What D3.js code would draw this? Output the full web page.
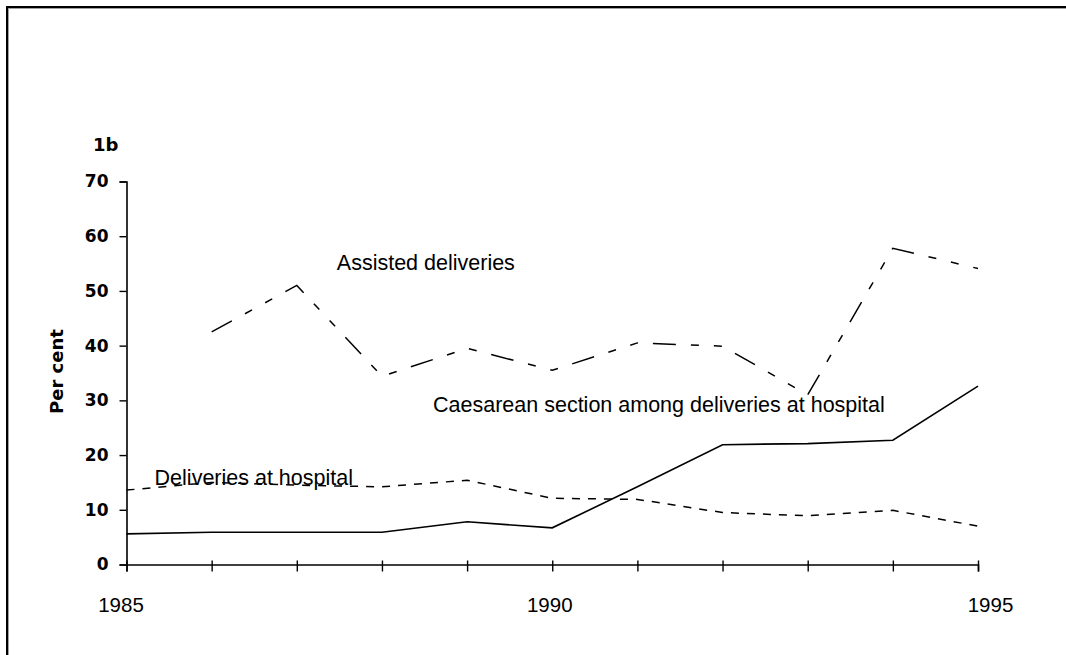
<!DOCTYPE html>
<html>
<head>
<meta charset="utf-8">
<script src="https://cdn.jsdelivr.net/npm/d3@7"></script>
<style>
  html, body { margin: 0; padding: 0; background: #fff; }
  svg { display: block; }
</style>
</head>
<body>
<svg id="chart" width="1066" height="655"></svg>
<script>
// ---- data ----
const years = [1985, 1986, 1987, 1988, 1989, 1990, 1991, 1992, 1993, 1994, 1995];
const assisted = [null, 42.5, 51.0, 34.4, 39.5, 35.5, 40.5, 39.9, 31.0, 57.8, 54.1];
const caesarean = [5.6, 5.9, 5.9, 5.9, 7.8, 6.7, 14.2, 21.9, 22.1, 22.7, 32.6];
const hospital = [13.6, 15.0, 14.5, 14.2, 15.4, 12.1, 11.9, 9.5, 8.9, 9.9, 7.0];
const yTicks = [0, 10, 20, 30, 40, 50, 60, 70];
const xLabelYears = [1985, 1990, 1995];
const seriesNames = ["Assisted deliveries", "Caesarean section among deliveries at hospital", "Deliveries at hospital"];
const panelLabel = "1b";
const yTitle = "Per cent";

// ---- drawing ----
const svg = d3.select("#chart");

// frame (top and left edges)
svg.append("line").attr("x1", 7).attr("x2", 1066).attr("y1", 7).attr("y2", 7)
  .attr("stroke", "#000").attr("stroke-width", 2);
svg.append("line").attr("x1", 7).attr("x2", 7).attr("y1", 6).attr("y2", 655)
  .attr("stroke", "#000").attr("stroke-width", 2);
svg.append("line").attr("x1", 8).attr("x2", 1066).attr("y1", 8.5).attr("y2", 8.5)
  .attr("stroke", "#a0a0a0").attr("stroke-width", 1);
svg.append("line").attr("x1", 8.5).attr("x2", 8.5).attr("y1", 8).attr("y2", 655)
  .attr("stroke", "#a0a0a0").attr("stroke-width", 1);

const x = d3.scaleLinear().domain([1985, 1995]).range([126.5, 978]);
const y = d3.scaleLinear().domain([0, 70]).range([564.5, 181.5]);

// y axis
const yAxis = d3.axisLeft(y).tickValues(yTicks).tickSize(7).tickPadding(11).tickFormat(d3.format("d"));
const gy = svg.append("g").attr("transform", `translate(${x(1985)},0)`).call(yAxis);
gy.select(".domain").attr("stroke", "#000").attr("stroke-width", 1.6);
gy.selectAll(".tick line").attr("stroke", "#000").attr("stroke-width", 1.4);
gy.selectAll(".tick text")
  .attr("font-family", "'DejaVu Sans', Verdana, sans-serif")
  .attr("font-weight", "bold").attr("font-size", 17).attr("fill", "#000");

// x axis
const xLabelShift = {1985: -6, 1990: -3, 1995: 12};
const xAxis = d3.axisBottom(x).tickValues(years).tickSize(7).tickPadding(26)
  .tickFormat(d => xLabelYears.includes(d) ? String(d) : "");
const gx = svg.append("g").attr("transform", `translate(0,${y(0)})`).call(xAxis);
gx.select(".domain").attr("stroke", "#000").attr("stroke-width", 1.6);
gx.selectAll(".tick line").attr("y1", -4).attr("stroke", "#000").attr("stroke-width", 1.4);
gx.selectAll(".tick text")
  .attr("font-family", "'Liberation Sans', Arial, sans-serif")
  .attr("font-size", 20.5).attr("fill", "#000")
  .attr("dx", d => xLabelShift[d] || 0);
gy.raise();

// lines
function series(vals) {
  return years.map((yr, i) => ({year: yr, v: vals[i]})).filter(d => d.v != null);
}
const line = d3.line().x(d => x(d.year)).y(d => y(d.v));

svg.append("path").datum(series(hospital))
  .attr("d", line).attr("fill", "none").attr("stroke", "#000")
  .attr("stroke-width", 1.5).attr("stroke-dasharray", "8,8");

svg.append("path").datum(series(assisted))
  .attr("d", line).attr("fill", "none").attr("stroke", "#000")
  .attr("stroke-width", 1.5).attr("stroke-dasharray", "23,15,8,15,8,15");

svg.append("path").datum(series(caesarean))
  .attr("d", line).attr("fill", "none").attr("stroke", "#000")
  .attr("stroke-width", 1.6);

// series labels (anchored in data space)
const labelAnchors = [
  {name: seriesNames[0], year: 1987.47, v: 53.8},
  {name: seriesNames[1], year: 1988.6, v: 27.9},
  {name: seriesNames[2], year: 1985.33, v: 14.5}
];
svg.selectAll("text.series-label").data(labelAnchors).join("text")
  .attr("class", "series-label")
  .attr("x", d => x(d.year)).attr("y", d => y(d.v))
  .attr("font-family", "'Liberation Sans', Arial, sans-serif")
  .attr("font-size", 21.5).attr("fill", "#000")
  .text(d => d.name);

// panel label
svg.append("text").attr("x", 93).attr("y", 151)
  .attr("font-family", "'DejaVu Sans', Verdana, sans-serif")
  .attr("font-weight", "bold").attr("font-size", 18).attr("fill", "#000")
  .text(panelLabel);

// y title
svg.append("text")
  .attr("transform", "translate(63,371.5) rotate(-90)")
  .attr("text-anchor", "middle")
  .attr("font-family", "'DejaVu Sans', Verdana, sans-serif")
  .attr("font-weight", "bold").attr("font-size", 18).attr("fill", "#000")
  .text(yTitle);
</script>
</body>
</html>
